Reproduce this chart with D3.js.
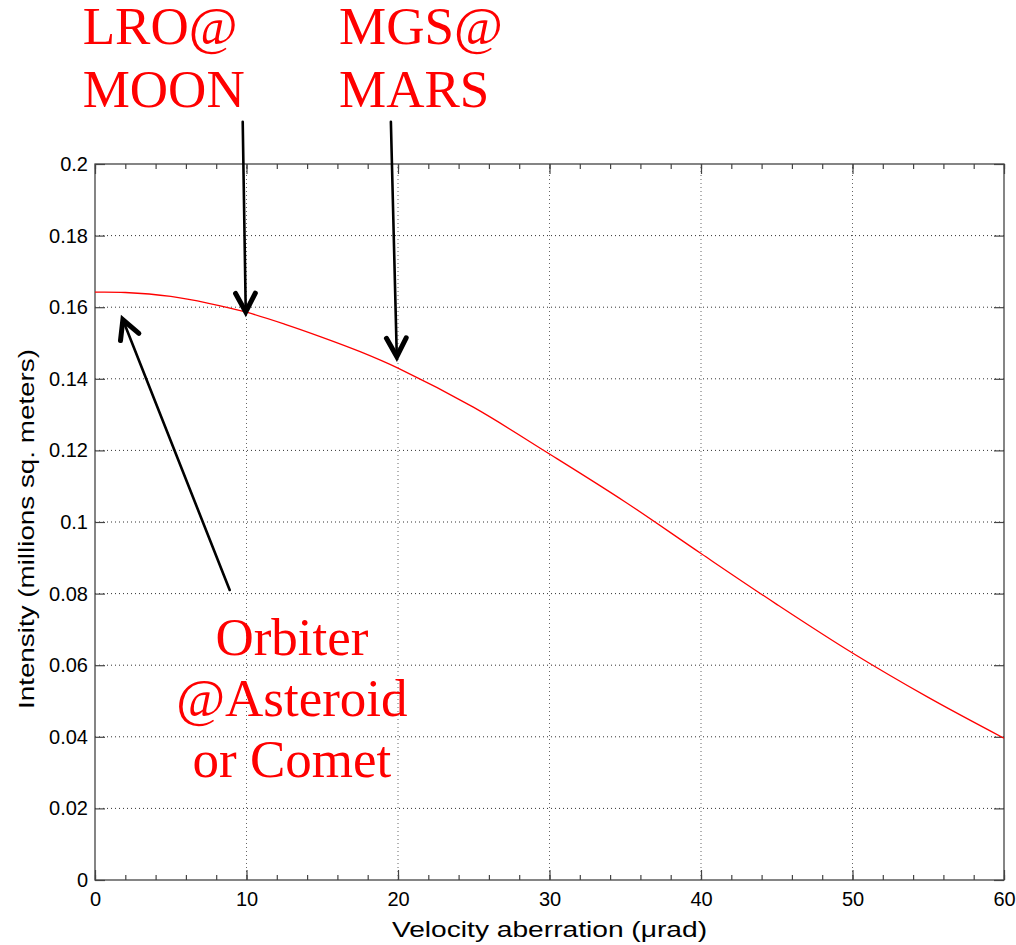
<!DOCTYPE html>
<html>
<head>
<meta charset="utf-8">
<script src="https://cdn.jsdelivr.net/npm/d3@7"></script>
<style>
  body { margin: 0; background: #fff; }
  svg { display: block; }
  .tick-label { font-family: Arial, "Liberation Sans", sans-serif; font-size: 20px; fill: #000; }
  .axis-title { font-family: Arial, "Liberation Sans", sans-serif; font-size: 22px; fill: #000; }
  .note { font-family: "Times New Roman", "Liberation Serif", serif; font-size: 53px; fill: #ff0000; }
</style>
</head>
<body>
<div id="chart"></div>
<script>
// data
const aberration = [0, 2, 5, 7.5, 10, 12.5, 15, 17.5, 20, 25, 30, 35, 40, 45, 50, 55, 60];
const intensity = [0.1642, 0.1641, 0.1630, 0.1611, 0.1586, 0.1553, 0.1516, 0.1476, 0.1430, 0.1320, 0.1190, 0.1056, 0.0912, 0.0770, 0.0634, 0.0510, 0.0396];

const xTicks = [0, 10, 20, 30, 40, 50, 60];
const xMinor = d3.range(0, 61, 2);
const yTicks = [0, 0.02, 0.04, 0.06, 0.08, 0.1, 0.12, 0.14, 0.16, 0.18, 0.2];

// annotations: label lines, text anchor point, arrow tail and tip (data units)
const noteLines = [["LRO@", "MOON"], ["MGS@", "MARS"], ["Orbiter", "@Asteroid", "or Comet"]];
const noteAnchor = ["start", "start", "middle"];
const noteAt = [[-0.81, 0.2334], [16.11, 0.2334], [13.0, 0.0629]];
const arrowTail = [[9.75, 0.2118], [19.53, 0.2118], [8.89, 0.0810]];
const arrowTip = [[9.95, 0.1587], [19.92, 0.1462], [1.84, 0.1565]];

const W = 1016, H = 945;
const margin = { top: 164, right: 12, bottom: 65, left: 95 };
const plotW = W - margin.left - margin.right;
const plotH = H - margin.top - margin.bottom;

const svg = d3.select("#chart").append("svg")
    .attr("width", W)
    .attr("height", H);

const x = d3.scaleLinear().domain([0, 60]).range([margin.left, margin.left + plotW]);
const y = d3.scaleLinear().domain([0, 0.2]).range([margin.top + plotH, margin.top]);

// grid
const grid = svg.append("g");
grid.selectAll("line.vg")
    .data(xTicks.slice(1, -1))
    .enter().append("line")
    .attr("x1", d => x(d)).attr("x2", d => x(d))
    .attr("y1", y(0)).attr("y2", y(0.2))
    .attr("stroke", "#666").attr("stroke-width", 1)
    .attr("stroke-dasharray", "1,3");
grid.selectAll("line.hg")
    .data(yTicks.slice(1, -1))
    .enter().append("line")
    .attr("x1", x(0)).attr("x2", x(60))
    .attr("y1", d => y(d)).attr("y2", d => y(d))
    .attr("stroke", "#333").attr("stroke-width", 1)
    .attr("stroke-dasharray", "1,3");

// axes (box with inward ticks)
const axisColor = "#444";
function styleAxis(g) {
    g.select(".domain").remove();
    g.selectAll(".tick line").attr("stroke", axisColor).attr("stroke-width", 1.2);
    g.selectAll(".tick text").attr("class", "tick-label");
}
svg.append("g")
    .attr("transform", `translate(0,${y(0)})`)
    .call(d3.axisBottom(x).tickValues(xMinor).tickSize(-5).tickFormat(""))
    .call(styleAxis);
svg.append("g")
    .attr("transform", `translate(0,${y(0)})`)
    .call(d3.axisBottom(x).tickValues(xTicks).tickSize(-10).tickPadding(12).tickFormat(d3.format("d")))
    .call(styleAxis);
svg.append("g")
    .attr("transform", `translate(0,${y(0.2)})`)
    .call(d3.axisTop(x).tickValues(xMinor).tickSize(-5).tickFormat(""))
    .call(styleAxis);
svg.append("g")
    .attr("transform", `translate(0,${y(0.2)})`)
    .call(d3.axisTop(x).tickValues(xTicks).tickSize(-10).tickFormat(""))
    .call(styleAxis);
svg.append("g")
    .attr("transform", `translate(${x(0)},0)`)
    .call(d3.axisLeft(y).tickValues(yTicks).tickSize(-10).tickPadding(7)
        .tickFormat(d => d === 0 ? "0" : d3.format("")(+d.toFixed(2))))
    .call(styleAxis);
svg.append("g")
    .attr("transform", `translate(${x(60)},0)`)
    .call(d3.axisRight(y).tickValues(yTicks).tickSize(-10).tickFormat(""))
    .call(styleAxis);

svg.append("rect")
    .attr("x", x(0)).attr("y", y(0.2))
    .attr("width", x(60) - x(0)).attr("height", y(0) - y(0.2))
    .attr("fill", "none").attr("stroke", axisColor).attr("stroke-width", 1.3);

// curve
const line = d3.line()
    .x((d, i) => x(aberration[i]))
    .y(d => y(d))
    .curve(d3.curveCatmullRom.alpha(0.5));
svg.append("path")
    .datum(intensity)
    .attr("d", line)
    .attr("fill", "none")
    .attr("stroke", "#ff0000")
    .attr("stroke-width", 1.3);

// axis titles
svg.append("text")
    .attr("class", "axis-title")
    .attr("x", x(30)).attr("y", 937)
    .attr("text-anchor", "middle")
    .attr("textLength", 315)
    .attr("lengthAdjust", "spacingAndGlyphs")
    .text("Velocity aberration (\u03bcrad)");
svg.append("text")
    .attr("class", "axis-title")
    .attr("transform", `translate(34,${(y(0) + y(0.2)) / 2 + 7}) rotate(-90)`)
    .attr("text-anchor", "middle")
    .attr("textLength", 360)
    .attr("lengthAdjust", "spacingAndGlyphs")
    .text("Intensity (millions sq. meters)");

// arrows
const arrows = svg.append("g").attr("stroke", "#000").attr("fill", "none").attr("stroke-linecap", "round");
arrowTail.forEach((t, i) => {
    const x1 = x(t[0]), y1 = y(t[1]);
    const x2 = x(arrowTip[i][0]), y2 = y(arrowTip[i][1]);
    arrows.append("line")
        .attr("x1", x1).attr("y1", y1).attr("x2", x2).attr("y2", y2)
        .attr("stroke-width", 2.6);
    const ang = Math.atan2(y1 - y2, x1 - x2);
    const len = 21, spread = 0.49;
    const p = [ang - spread, ang + spread].map(a => [x2 + len * Math.cos(a), y2 + len * Math.sin(a)]);
    arrows.append("path")
        .attr("d", `M${p[0][0]},${p[0][1]}L${x2},${y2}L${p[1][0]},${p[1][1]}`)
        .attr("stroke-width", 5)
        .attr("stroke-linejoin", "miter");
});

// red labels
noteLines.forEach((lines, i) => {
    const t = svg.append("text")
        .attr("class", "note")
        .attr("text-anchor", noteAnchor[i]);
    lines.forEach((s, j) => {
        t.append("tspan")
            .attr("x", x(noteAt[i][0]))
            .attr("y", y(noteAt[i][1]) + j * (i === 2 ? 61 : 63))
            .text(s);
    });
});
</script>
</body>
</html>
